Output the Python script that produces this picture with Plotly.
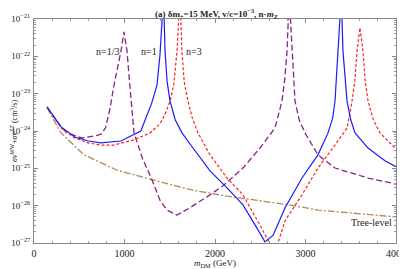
import plotly.graph_objects as go

# ---- data ----
tree_m = [144, 298, 552, 917, 1436, 1757, 2133, 2497, 2829, 3138, 3514, 4000]
tree_v = [4.2e-24, 8.9e-25, 2.3e-25, 8.9e-26, 4.1e-26, 2.6e-26, 1.8e-26,
          1.33e-26, 1.04e-26, 7.6e-27, 6.3e-27, 5.0e-27]

n1_m = [144, 300, 450, 600, 740, 960, 1180, 1249, 1300, 1359, 1392, 1431, 1448, 1470,
        1503, 1560, 1635, 1757, 1945, 2133, 2309, 2464, 2552, 2641, 2773, 2961, 3138,
        3249, 3300, 3326, 3359, 3395, 3414, 3440, 3459, 3500, 3547, 3691, 3878, 4000]
n1_v = [4.4e-24, 1.29e-24, 6.9e-25, 5.4e-25, 4.8e-25, 5.4e-25, 1.0e-24, 2.7e-24,
        5.5e-24, 1.7e-23, 1.1e-22, 4e-21, 1.38e-22, 2.2e-23, 6.3e-24, 2.0e-24,
        8.9e-25, 3.5e-25, 8.5e-26, 3.0e-26, 1.05e-26, 2.5e-27, 1.07e-27, 1.6e-27,
        8.7e-27, 5.5e-26, 2.3e-25, 8.9e-25, 2.2e-24, 6.3e-24, 1.38e-22, 4e-21,
        1.38e-22, 1.8e-23, 6.3e-24, 2.0e-24, 8.9e-25, 3.5e-25, 1.6e-25, 1.1e-25]

n3_m = [144, 300, 450, 597, 740, 884, 1105, 1282, 1392, 1458, 1503, 1545, 1580, 1613,
        1635, 1660, 1702, 1750, 1812, 1945, 2133, 2309, 2497, 2608, 2652, 2696, 2773,
        2961, 3138, 3326, 3459, 3514, 3545, 3569, 3602, 3635, 3660, 3691, 3750, 3823, 4000]
n3_v = [4.4e-24, 1.2e-24, 6.5e-25, 4.8e-25, 4.2e-25, 4.2e-25, 5.8e-25, 8.9e-25,
        1.55e-24, 3.2e-24, 6.3e-24, 1.8e-23, 1.38e-22, 4e-21, 1.38e-22, 2.0e-23,
        6.3e-24, 2.2e-24, 8.9e-25, 2.3e-25, 5.5e-26, 1.95e-26, 3.0e-27, 9.3e-28,
        6e-28, 1e-27, 3.9e-27, 1.95e-26, 1.02e-25, 4.2e-25, 1.2e-24, 6.3e-24,
        2.2e-23, 1.38e-22, 5.8e-22, 1.38e-22, 2.2e-23, 6.3e-24, 2.0e-24, 8.9e-25, 3.3e-25]

n13_m = [144, 298, 365, 530, 674, 740, 790, 840, 884, 930, 961, 994, 1028, 1050,
         1072, 1105, 1200, 1304, 1392, 1470, 1580, 1713, 1945, 2088, 2309, 2497,
         2663, 2740, 2770, 2796, 2820, 2851, 2870, 2884, 2930, 2994, 3138, 3326,
         3691, 4000]
n13_v = [4.4e-24, 1.29e-24, 8.9e-25, 6.5e-25, 7.4e-25, 8.2e-25, 1.2e-24, 4.0e-24,
         1.7e-23, 6.0e-23, 1.38e-22, 4.5e-22, 1.38e-22, 3.0e-23, 6.3e-24, 8.9e-25,
         1.8e-25, 4.9e-26, 1.4e-26, 7.6e-27, 5.6e-27, 8.5e-27, 1.95e-26, 3.4e-26,
         1.02e-25, 3.5e-25, 1.2e-24, 6.3e-24, 2.4e-23, 1.38e-22, 4e-21, 1.38e-22,
         2.2e-23, 6.3e-24, 2.0e-24, 8.9e-25, 2.3e-25, 1.02e-25, 5.5e-26, 3.8e-26]

x_ticks = [0, 1000, 2000, 3000, 4000]
y_exps = [-27, -26, -25, -24, -23, -22, -21]

FONT = "Liberation Serif"
TXT = "#222"

fig = go.Figure()
fig.add_trace(go.Scatter(x=tree_m, y=tree_v, mode="lines",
                         line=dict(color="#b08a5a", width=1.3, dash="7px,2px,2px,2px")))
fig.add_trace(go.Scatter(x=n13_m, y=n13_v, mode="lines",
                         line=dict(color="#8b1f8b", width=1.3, dash="6px,3px")))
fig.add_trace(go.Scatter(x=n3_m, y=n3_v, mode="lines",
                         line=dict(color="#ff2020", width=1.2, dash="3px,2px")))
fig.add_trace(go.Scatter(x=n1_m, y=n1_v, mode="lines",
                         line=dict(color="#1a1aff", width=1.2)))

minor_y = [m * 10.0 ** e for e in y_exps[:-1] for m in range(2, 10)]

# the page body adds an 8px offset; figure sized to fill the 407x269 window
fig.update_layout(
    width=399, height=261,
    margin=dict(l=26, r=11, t=11, b=26),
    paper_bgcolor="white", plot_bgcolor="white",
    showlegend=False,
    font=dict(family=FONT, size=10, color=TXT),
    xaxis=dict(range=[0, 4000], tickvals=x_ticks, ticktext=[str(v) for v in x_ticks],
               automargin=False, ticklabelstandoff=1,
               ticks="inside", ticklen=4, tickcolor="#888", mirror="allticks",
               showline=True, linecolor="#888", linewidth=1, showgrid=False, zeroline=False,
               minor=dict(ticks="inside", ticklen=2, dtick=200, tick0=0, tickcolor="#999"),
               tickfont=dict(family=FONT, size=10)),
    yaxis=dict(type="log", range=[-27, -21], automargin=False, ticklabelstandoff=1,
               tickvals=[10.0 ** e for e in y_exps],
               ticktext=["10<sup>−%d</sup>" % (-e) for e in y_exps],
               ticks="inside", ticklen=4, tickcolor="#888", mirror="allticks",
               showline=True, linecolor="#888", linewidth=1, showgrid=False, zeroline=False,
               minor=dict(ticks="inside", ticklen=2, tickvals=minor_y, tickcolor="#999"),
               tickfont=dict(family=FONT, size=9)),
)

# title
fig.add_annotation(xref="paper", yref="paper", x=0.505, y=1, yshift=6,
                   xanchor="center", yanchor="middle", showarrow=False,
                   text="<b>(a) δm<sub>+</sub>=15 MeV, v/c=10<sup>−3</sup>, n·<i>m</i><sub>Z</sub></b>",
                   font=dict(family=FONT, size=9, color=TXT))
# axis titles
fig.add_annotation(xref="paper", yref="paper", x=0.5, y=0, yshift=-20,
                   xanchor="center", yanchor="middle", showarrow=False,
                   text="<i>m</i><sub>DM</sub> (GeV)", font=dict(family=FONT, size=9, color=TXT))
fig.add_annotation(xref="paper", yref="paper", x=0, y=0.5, xshift=-20,
                   xanchor="center", yanchor="middle", showarrow=False, textangle=-90,
                   text="<i>σv</i><sup>WW</sup>+<i>σv</i><sup>ZZ</sup> (cm<sup>3</sup>/s)",
                   font=dict(family=FONT, size=8, color=TXT))

fig.add_annotation(x=960, y=-21.88, xref="x", yref="y", text="n=1/3", showarrow=False,
                   xanchor="right", yanchor="middle", font=dict(family=FONT, size=10, color=TXT))
fig.add_annotation(x=1380, y=-21.88, xref="x", yref="y", text="n=1", showarrow=False,
                   xanchor="right", yanchor="middle", font=dict(family=FONT, size=10, color=TXT))
fig.add_annotation(x=1657, y=-21.88, xref="x", yref="y", text="n=3", showarrow=False,
                   xanchor="left", yanchor="middle", font=dict(family=FONT, size=10, color=TXT))
fig.add_annotation(x=3980, y=-26.45, xref="x", yref="y", text="Tree-level", showarrow=False,
                   xanchor="right", yanchor="middle", font=dict(family=FONT, size=10, color=TXT))

fig.write_html("out.html")
